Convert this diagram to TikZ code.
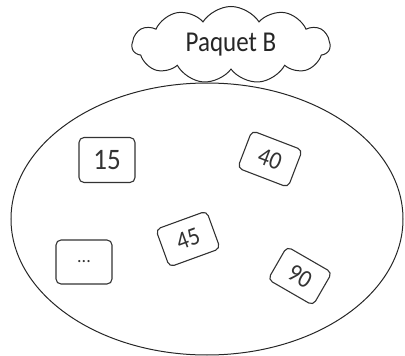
\documentclass[tikz,border=0pt]{standalone}
\usepackage{fontspec}
\setmainfont{Carlito}
\usetikzlibrary{shapes.symbols}
\begin{document}
\begin{tikzpicture}[x=1pt,y=-1pt,
    card/.style={draw=black!80, line width=1.1pt, rounded corners=5pt, text=black!80,
        minimum width=54pt, minimum height=40pt, inner sep=0pt, font=\fontsize{23}{23}\selectfont},
    bag/.style={draw=black!85, line width=1pt}]
        \useasboundingbox (0,0) rectangle (405,356);
        %the packet as an ellipse
        \draw[bag] (207,219) ellipse (196 and 136);
        %label cloud on top
        \node[bag, cloud, cloud puffs=11, cloud puff arc=115, cloud ignores aspect, fill=white,
            minimum width=198pt, minimum height=77pt, inner sep=0pt,
            font=\fontsize{25}{25}\selectfont, text=black!85] (label) at (231,45) {\scalebox{1}[1.15]{Paquet B}};
        % the cards inside
        \node[card, minimum width=56pt, minimum height=45pt, font=\fontsize{27}{27}\selectfont] (c15) at (107,160) {\scalebox{1}[1.1]{15}};
        \node[card, rotate=-21] (c40) at (270,159) {\scalebox{1}[1.1]{40}};
        \node[card, rotate=20] (c45) at (188,239) {\scalebox{1}[1.1]{45}};
        \node[card, minimum width=56pt, minimum height=44pt, font=\fontsize{18}{18}\selectfont] (cdots) at (84,262) {...};
        \node[card, rotate=-30, minimum width=52pt, minimum height=38pt] (c90) at (300,276) {\scalebox{1}[1.1]{90}};
    \end{tikzpicture}
\end{document}
